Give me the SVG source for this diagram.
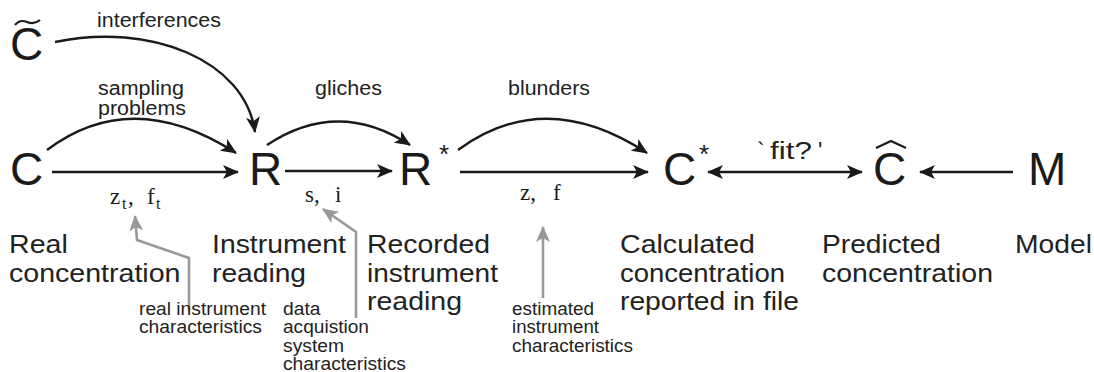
<svg xmlns="http://www.w3.org/2000/svg" width="1094" height="372" viewBox="0 0 1094 372">
<style>
.big{font-family:"Liberation Sans",Arial,sans-serif;font-size:46px;fill:#1a1a1a}
.star{font-family:"Liberation Sans",Arial,sans-serif;font-size:26px;fill:#1a1a1a}
.lbl{font-family:"Liberation Sans",Arial,sans-serif;font-size:26px;fill:#222}
.mid{font-family:"Liberation Sans",Arial,sans-serif;font-size:19.5px;fill:#222}
.sm{font-family:"Liberation Sans",Arial,sans-serif;font-size:17.5px;fill:#222}
.ser{font-family:"Liberation Serif","Times New Roman",serif;font-size:23px;fill:#1a1a1a}
.sub{font-size:16px}
.edge{fill:none;stroke:#1a1a1a;stroke-width:2.4}
.gedge{fill:none;stroke:#999;stroke-width:2.6}
.acc{fill:none;stroke:#1a1a1a;stroke-width:2.2}
</style>
<defs>
<marker id="ah" markerUnits="userSpaceOnUse" viewBox="0 0 16 14" refX="15" refY="7" markerWidth="16" markerHeight="14" orient="auto-start-reverse">
<path d="M0,0 L16,7 L0,14 L4,7 Z" fill="#1a1a1a"/>
</marker>
<marker id="gah" markerUnits="userSpaceOnUse" viewBox="0 0 16 14" refX="15" refY="7" markerWidth="16" markerHeight="14" orient="auto">
<path d="M0,0 L16,7 L0,14 L4,7 Z" fill="#999"/>
</marker>
</defs>

<g id="connectors">
<path class="edge" d="M52,172 L238,172" marker-end="url(#ah)"/>
<path class="edge" d="M47,150 Q132,86 236,153" marker-end="url(#ah)"/>
<path class="edge" d="M55,42 C150,22 245,60 255,132" marker-end="url(#ah)"/>
<path class="edge" d="M285,171 L392,171" marker-end="url(#ah)"/>
<path class="edge" d="M267,145 Q338,98 410,145" marker-end="url(#ah)"/>
<path class="edge" d="M460,172 L648,172" marker-end="url(#ah)"/>
<path class="edge" d="M458,150 Q545,86 647,153" marker-end="url(#ah)"/>
<path class="edge" d="M708,172 L862,172" marker-start="url(#ah)" marker-end="url(#ah)"/>
<path class="edge" d="M1013,172 L920,172" marker-end="url(#ah)"/>
<path class="gedge" d="M189,310 V258 L137,240 L135,216" marker-end="url(#gah)"/>
<path class="gedge" d="M356,318 V232 L323,209" marker-end="url(#gah)"/>
<path class="gedge" d="M543,298 V227" marker-end="url(#gah)"/>
<text class="mid" x="97" y="27" textLength="124" lengthAdjust="spacingAndGlyphs">interferences</text>
<text class="mid" x="98" y="95" textLength="86" lengthAdjust="spacingAndGlyphs">sampling</text>
<text class="mid" x="98" y="115" textLength="88" lengthAdjust="spacingAndGlyphs">problems</text>
<text class="mid" x="315" y="95" textLength="67" lengthAdjust="spacingAndGlyphs">gliches</text>
<text class="mid" x="508" y="95" textLength="82" lengthAdjust="spacingAndGlyphs">blunders</text>
<text class="mid" x="757" y="159" style="font-size:23px">`<tspan x="770" textLength="42" lengthAdjust="spacingAndGlyphs">fit?</tspan><tspan x="818">'</tspan></text>
<text class="ser" x="110" y="204">z<tspan class="sub" x="122" dy="5">t</tspan><tspan x="128" dy="-5">,</tspan><tspan x="147">f</tspan><tspan class="sub" x="156" dy="5">t</tspan></text>
<text class="ser" x="305" y="202">s,<tspan x="335">i</tspan></text>
<text class="ser" x="520" y="200">z,<tspan x="553">f</tspan></text>
<text class="sm" x="139" y="315" textLength="127" lengthAdjust="spacingAndGlyphs">real instrument</text>
<text class="sm" x="139" y="333" textLength="123" lengthAdjust="spacingAndGlyphs">characteristics</text>
<text class="sm" x="283" y="315" textLength="37.5" lengthAdjust="spacingAndGlyphs">data</text>
<text class="sm" x="283" y="333" textLength="86" lengthAdjust="spacingAndGlyphs">acquistion</text>
<text class="sm" x="283" y="352" textLength="61" lengthAdjust="spacingAndGlyphs">system</text>
<text class="sm" x="283" y="370" textLength="123" lengthAdjust="spacingAndGlyphs">characteristics</text>
<text class="sm" x="512" y="315" textLength="82" lengthAdjust="spacingAndGlyphs">estimated</text>
<text class="sm" x="512" y="333" textLength="87" lengthAdjust="spacingAndGlyphs">instrument</text>
<text class="sm" x="512" y="352" textLength="121" lengthAdjust="spacingAndGlyphs">characteristics</text>
</g>

<g id="node-Ctilde">
<text class="big" x="10" y="60">C</text>
<path class="acc" d="M15,25 Q20,19 27,22 Q34,25 40,20"/>
</g>
<g id="node-C">
<text class="big" x="10" y="185">C</text>
<text class="lbl" x="9" y="253" textLength="58.8" lengthAdjust="spacingAndGlyphs">Real</text>
<text class="lbl" x="9" y="282" textLength="171.5" lengthAdjust="spacingAndGlyphs">concentration</text>
</g>
<g id="node-R">
<text class="big" x="249" y="185">R</text>
<text class="lbl" x="212" y="253" textLength="134" lengthAdjust="spacingAndGlyphs">Instrument</text>
<text class="lbl" x="212" y="282" textLength="94" lengthAdjust="spacingAndGlyphs">reading</text>
</g>
<g id="node-Rstar">
<text class="big" x="399" y="185">R</text>
<text class="star" x="439" y="163">*</text>
<text class="lbl" x="367" y="253" textLength="123" lengthAdjust="spacingAndGlyphs">Recorded</text>
<text class="lbl" x="367" y="282" textLength="131" lengthAdjust="spacingAndGlyphs">instrument</text>
<text class="lbl" x="367" y="310" textLength="95" lengthAdjust="spacingAndGlyphs">reading</text>
</g>
<g id="node-Cstar">
<text class="big" x="663" y="185">C</text>
<text class="star" x="699" y="163">*</text>
<text class="lbl" x="620" y="253" textLength="135" lengthAdjust="spacingAndGlyphs">Calculated</text>
<text class="lbl" x="620" y="282" textLength="165" lengthAdjust="spacingAndGlyphs">concentration</text>
<text class="lbl" x="620" y="310" textLength="179" lengthAdjust="spacingAndGlyphs">reported in file</text>
</g>
<g id="node-Chat">
<text class="big" x="873" y="185">C</text>
<path class="acc" d="M876,148 L891,141 L906,148"/>
<text class="lbl" x="822" y="253" textLength="119" lengthAdjust="spacingAndGlyphs">Predicted</text>
<text class="lbl" x="822" y="282" textLength="171" lengthAdjust="spacingAndGlyphs">concentration</text>
</g>
<g id="node-M">
<text class="big" x="1028" y="185">M</text>
<text class="lbl" x="1015" y="253" textLength="77" lengthAdjust="spacingAndGlyphs">Model</text>
</g>
</svg>
